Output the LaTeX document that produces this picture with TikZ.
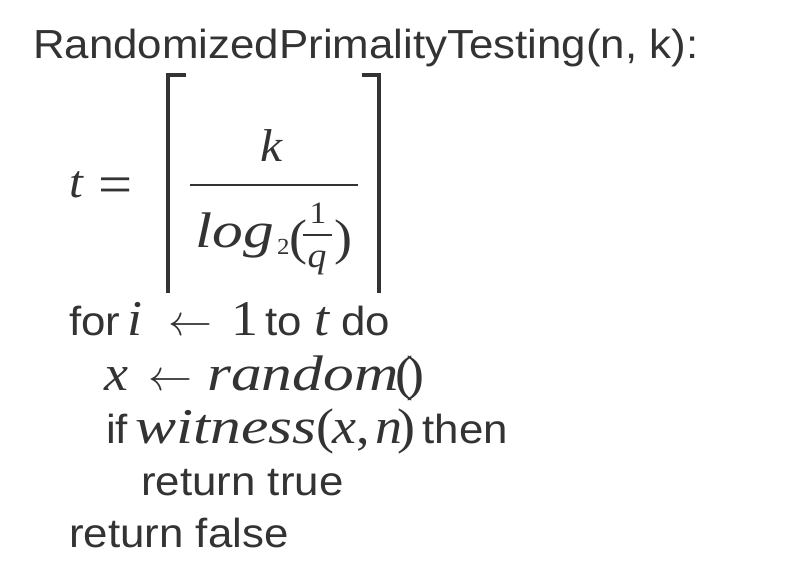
\RequirePackage{fix-cm}
\documentclass[tikz,border=0pt]{standalone}
\usepackage{fontspec}
\setmainfont{Liberation Sans}[FakeStretch=1.08]
\newfontfamily\serif{Liberation Serif}[FakeStretch=1.08]
\newfontfamily\wideserif{Liberation Serif}[FakeStretch=1.23]
\definecolor{ink}{HTML}{333333}
\newcommand{\mi}[1]{{\serif\itshape\fontsize{50}{50}\selectfont #1}}
\newcommand{\mw}[1]{{\wideserif\itshape\fontsize{50}{50}\selectfont #1}}
\newcommand{\up}[1]{{\serif\fontsize{50}{50}\selectfont #1}}
\newcommand{\larr}{{\fontsize{44}{44}\selectfont$\leftarrow$}}
\tikzset{
  line/.style={anchor=base west, inner sep=0pt, text=ink, font=\fontsize{40.6}{48}\selectfont},
  sym/.style={anchor=base west, inner sep=0pt, text=ink, font=\serif\itshape\fontsize{#1}{#1}\selectfont},
  num/.style={anchor=base, inner sep=0pt, text=ink, font=\serif\fontsize{#1}{#1}\selectfont},
  ceil/.style={draw=ink, line width=3.5pt}
}
\begin{document}
\begin{tikzpicture}[x=1pt, y=-1pt]
    \useasboundingbox[fill=white] (0,0) rectangle (805,576);
    \node[line] (header) at (33,58) {RandomizedPrimalityTesting(n, k):};
    \node[sym=46] (tvar) at (69,197) {t};
    \node[num=56, anchor=base west] (eq) at (98,203) {=};
    \foreach \bx/\tx in {168/186, 379/362}{
        \draw[ceil] (\tx,75) -| (\bx,293);
    }
    \draw[draw=ink, line width=2.2pt] (190,185) -- (358,185);
    \node[sym=46, anchor=base] (num) at (272,161) {k};
    \node[line] (log) at (195,247) {\mw{log}};
    \node[num=23, anchor=base west] (sub) at (277,254) {2};
    \node[num=50, anchor=base west] (lpar) at (289,254) {(};
    \node[num=31] (one) at (318,223) {1};
    \draw[draw=ink, line width=1.5pt] (303,235) -- (332,235);
    \node[sym=35, anchor=base] (q) at (317,267) {q};
    \node[num=50, anchor=base west] (rpar) at (334,254) {)};
    \node[line] (forline) at (69,335) {for\hspace{7pt}\mi{i}\hspace{26pt}\larr\hspace{19pt}\up{1}\hspace{7pt}to \mi{t} do};
    \node[line] (assign) at (104,390) {\mi{x}\hspace{20pt}\larr\hspace{15pt}\mw{random}\up{\kern-3pt(\kern-7pt)}};
    \node[line] (ifline) at (106,443) {if\hspace{7pt}\mw{witness}\up{(\kern-2pt}\mi{x}\up{,}\hspace{6pt}\mi{n}\up{\kern-5pt)}\hspace{7pt}then};
    \node[line] (rettrue) at (141,495) {return true};
    \node[line] (retfalse) at (69,547) {return false};
\end{tikzpicture}
\end{document}
